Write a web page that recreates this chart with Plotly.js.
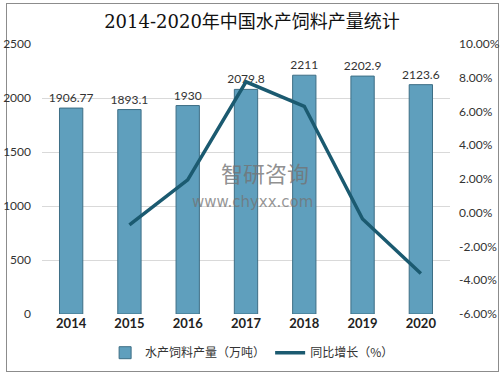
<!DOCTYPE html>
<html><head><meta charset="utf-8">
<script src="https://cdn.plot.ly/plotly-3.0.1.min.js"></script>
<style>
html,body{margin:0;padding:0;background:#fff;}
#wrap{position:relative;width:504px;height:376px;}
#frame{position:absolute;left:6px;top:3px;width:491px;height:367px;border:1px solid #8c8c8c;}
#chart{position:absolute;left:0;top:0;width:504px;height:376px;}
</style></head>
<body><div id="wrap"><div id="frame"></div><div id="chart"></div></div>
<script>
const years = ['2014','2015','2016','2017','2018','2019','2020'];
const output = [1906.77, 1893.1, 1930, 2079.8, 2211, 2202.9, 2123.6];
const outputLabels = ['1906.77','1893.1','1930','2079.8','2211','2202.9','2123.6'];
const growthYears = ['2015','2016','2017','2018','2019','2020'];
const growth = [-0.72, 1.95, 7.76, 6.31, -0.37, -3.60];
const leftTicks = [0, 500, 1000, 1500, 2000, 2500];
const rightTicks = [-6, -4, -2, 0, 2, 4, 6, 8, 10];

const numFont = 'Lato, "Liberation Sans", sans-serif';
const cjkFont = '"Noto Sans CJK SC", sans-serif';

const traces = [
  {
    type: 'bar', x: years, y: output, name: '水产饲料产量（万吨）',
    width: 0.4,
    marker: {color: '#5f9fbd', line: {color: '#3d6e85', width: 1}},
    text: outputLabels, textposition: 'outside', cliponaxis: false, constraintext: 'none',
    textfont: {family: numFont, size: 12, color: '#333'},
    hoverinfo: 'x+y'
  },
  {
    type: 'scatter', mode: 'lines', x: growthYears, y: growth, yaxis: 'y2',
    name: '同比增长（%）',
    line: {color: '#1b5a70', width: 3.5}
  }
];

const layout = {
  width: 504, height: 376,
  margin: {l: 42, r: 54, t: 44, b: 62, autoexpand: false},
  paper_bgcolor: 'rgba(0,0,0,0)', plot_bgcolor: 'rgba(0,0,0,0)',
  title: {text: '2014-2020年中国水产饲料产量统计', x: 0.5, xref: 'container', y: 0.942, yref: 'container', yanchor: 'middle',
    font: {family: '"DejaVu Serif", "Noto Sans CJK SC", serif', size: 18, color: '#111'}},
  showlegend: true,
  legend: {orientation: 'h', x: 0.515, xanchor: 'center', yref: 'container', y: 0.062, yanchor: 'middle',
    font: {family: cjkFont, size: 12, color: '#333'}, itemwidth: 30, traceorder: 'normal'},
  xaxis: {type: 'category', showgrid: false, showline: false, ticks: '', automargin: false,
    tickfont: {family: numFont, size: 13, color: '#222', weight: 'bold'}},
  yaxis: {range: [0, 2500], tickvals: leftTicks, showgrid: true, gridcolor: '#d9d9d9', gridwidth: 1,
    zeroline: false, showline: false, ticks: '', ticklabelstandoff: 10, automargin: false,
    tickfont: {family: numFont, size: 12, color: '#333'}},
  yaxis2: {overlaying: 'y', side: 'right', range: [-6, 10], tickvals: rightTicks,
    ticktext: rightTicks.map(v => v.toFixed(2) + '%'), automargin: false,
    showgrid: false, zeroline: false, showline: false, ticks: '', ticklabelstandoff: 8,
    tickfont: {family: numFont, size: 12, color: '#333'}},
  annotations: [
    {xref: 'paper', yref: 'paper', x: 0.547, y: 0.525, text: '智研咨询', showarrow: false,
      font: {family: cjkFont, size: 22, color: 'rgba(115,115,115,0.8)'}},
    {xref: 'paper', yref: 'paper', x: 0.515, y: 0.415, text: 'www.chyxx.com', showarrow: false,
      font: {family: '"DejaVu Sans", sans-serif', size: 15, color: 'rgba(115,115,115,0.75)'}}
  ]
};

Plotly.newPlot('chart', traces, layout, {displayModeBar: false, staticPlot: true});
</script></body></html>
